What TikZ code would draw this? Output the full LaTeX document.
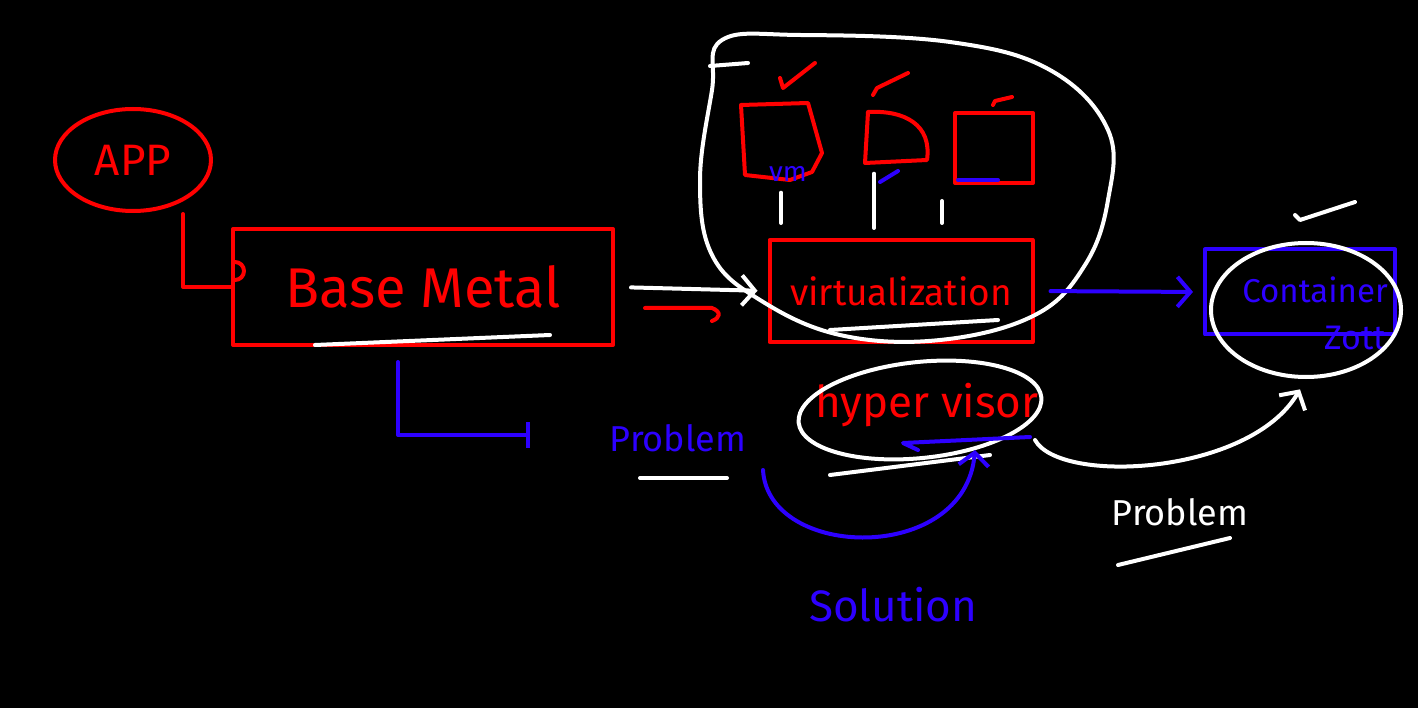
\documentclass[tikz,border=0pt]{standalone}
\usepackage{fontspec}
\setmainfont{Fira Sans}
\usetikzlibrary{shapes.geometric,arrows.meta,calc}
\definecolor{rd}{RGB}{255,0,0}
\definecolor{bl}{RGB}{45,0,255}
\begin{document}
\begin{tikzpicture}[x=1pt,y=-1pt,line cap=round,line join=round,
  pen/.style={line width=4pt},
  redpen/.style={pen,draw=rd},
  bluepen/.style={pen,draw=bl},
  whitepen/.style={pen,draw=white},
  barb/.style={-{Straight Barb[length=13pt,width=30pt,line width=4pt]}},
  fs/.style={font=\fontsize{#1}{#1}\selectfont}]
\useasboundingbox (0,0) rectangle (1418,708);
\fill[black] (0,0) rectangle (1418,708);

% APP
\node[ellipse,redpen,minimum width=156,minimum height=102,text=rd,fs=44] (app) at (133,160) {APP};

% Base Metal
\node[rectangle,redpen,minimum width=380,minimum height=116,text=rd,fs=56] (bm) at (423,287) {Base Metal};
\draw[whitepen] (315,345) -- (550,335);
\draw[redpen] ($(app.south)+(50,1)$) |- (bm.west);
\draw[redpen] (235,280) arc[start angle=90,end angle=-90,radius=9];

% virtualization
\node[rectangle,redpen,minimum width=263,minimum height=102,text=rd,fs=37] (virt) at (901,291) {virtualization};
\draw[whitepen] (830,330) -- (998,320);

% VMs
\node[minimum width=80,minimum height=75] (vm1) at (781,141) {};
\draw[redpen] (741,105) -- (808,103) -- (822,153) -- (812,172) -- (790,180) -- (745,175) -- cycle;
\node[text=bl,fs=28] at (788,174) {vm};
\node[minimum width=63,minimum height=55] (vm2) at (896,138) {};
\draw[redpen] (868,112) -- (865,163) -- (927,160) .. controls (932,125) and (905,110) .. (868,112);
\draw[bluepen] (880,182) -- (898,171);
\node[rectangle,redpen,minimum width=78,minimum height=70] (vm3) at (994,148) {};
\draw[bluepen] (958,180) -- (998,180);
% red ticks
\draw[redpen] (780,78) -- (783,88) -- (815,63);
\draw[redpen] (873,95) -- (877,88) -- (908,73);
\draw[redpen] (993,105) -- (995,101) -- (1012,97);
% white links
\draw[whitepen,shorten <=14pt,shorten >=15pt] (vm1.south) -- (vm1.south |- virt.north);
\draw[whitepen,shorten <=8pt,shorten >=10pt] (vm2.south -| 874,0) -- (874,0 |- virt.north);
\draw[whitepen,shorten <=16pt,shorten >=15pt] (vm3.south -| 942,0) -- (942,0 |- virt.north);

% big blob
\draw[whitepen] plot[smooth cycle,tension=0.65] coordinates {(722,40) (800,35) (950,42) (1050,70) (1108,130) (1108,200) (1085,265) (1035,315) (940,340) (840,335) (760,300) (712,255) (700,180) (712,90)};
\draw[whitepen] (710,66) -- (748,63);

% Base Metal -> virtualization
\draw[whitepen,barb,shorten <=16pt,shorten >=10pt] (bm.east) -- (virt.west);
\draw[redpen] (645,308) -- (712,308) .. controls (722,312) and (720,318) .. (712,321);

% virtualization -> container
\node[rectangle,bluepen,minimum width=190,minimum height=85] (cont) at (1300,292) {};
\node[text=bl,fs=33] at (1315,290) {Container};
\node[text=bl,fs=34] at (1355,338) {Zott};
\node[ellipse,whitepen,minimum width=190,minimum height=134] (ring) at (1306,310) {};
\draw[whitepen] (1295,215) -- (1300,220) -- (1355,202);
\draw[bluepen,barb,shorten <=16pt,shorten >=10pt] (virt.east) -- (cont.west);

% hypervisor
\node[text=rd,fs=44] (hv) at (927,405) {hyper visor};
\node[ellipse,whitepen,rotate=6,minimum width=244,minimum height=96] (hvring) at (920,410) {};
\draw[bluepen] (918,450) -- (903,443) -- (1030,437);
\draw[whitepen] (830,475) -- (990,455);

% Problem (blue) and Solution
\node[text=bl,fs=36] (p1) at (678,438) {Problem};
\draw[whitepen] (640,478) -- (727,478);
\coordinate (s0) at (763,470);
\coordinate (s1) at (975,450);
\draw[bluepen,barb] (s0) .. controls (768,560) and (965,565) .. (s1);
\node[text=bl,fs=44] (sol) at (893,605) {Solution};

% Base Metal -> Problem (blue L)
\coordinate (l0) at (398,362);
\coordinate (l1) at (530,435);
\draw[bluepen,-{Bar[width=26pt,line width=4pt]}] (l0) |- (l1);

% hypervisor -> container (white)
\coordinate (h0) at (1035,440);
\draw[whitepen,barb,shorten >=12pt] (h0) .. controls (1060,485) and (1250,475) .. (ring.south);
\node[text=white,fs=36] (p2) at (1180,512) {Problem};
\draw[whitepen] (1118,565) -- (1230,538);
\end{tikzpicture}
\end{document}
